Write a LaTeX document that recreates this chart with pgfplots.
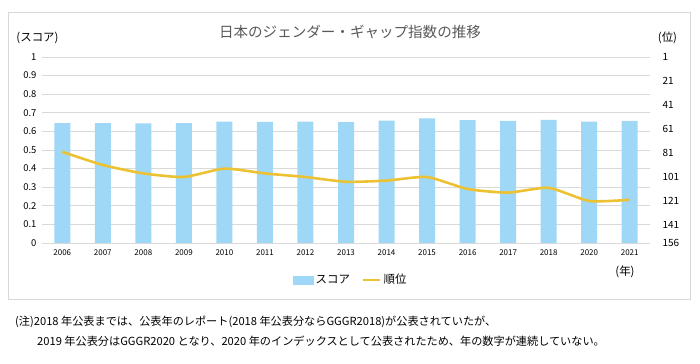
\documentclass[border=0pt]{standalone}
\usepackage{fontspec}
\setmainfont{Noto Sans CJK JP}
\usepackage{pgfplots}
\pgfplotsset{compat=1.18}
\definecolor{barblue}{RGB}{158,216,246}
\definecolor{linegold}{RGB}{236,193,50}
\definecolor{gridgray}{RGB}{217,217,217}
\definecolor{titlegray}{RGB}{89,89,89}
\begin{document}
\begin{tikzpicture}
\path[use as bounding box] (0bp,0bp) rectangle (700bp,364bp);
\draw[gridgray, line width=0.8bp] (8bp,65bp) rectangle (690bp,352bp);
\node[text=titlegray, font=\fontsize{14.6}{16}\selectfont] at (350bp,332bp) {日本のジェンダー・ギャップ指数の推移};
\node[font=\fontsize{11.5}{13}\selectfont] at (37.5bp,326bp) {(スコア)};
\node[font=\fontsize{11.5}{13}\selectfont] at (667.5bp,326bp) {(位)};
\node[font=\fontsize{11.5}{13}\selectfont] at (625bp,92bp) {(年)};
\node[anchor=west, font=\fontsize{11.2}{12}\selectfont, inner sep=0] at (15bp,42bp) {(注)2018 年公表までは、公表年のレポート(2018 年公表分ならGGGR2018)が公表されていたが、};
\node[anchor=west, font=\fontsize{11.2}{12}\selectfont, inner sep=0] at (37bp,23bp) {2019 年公表分はGGGR2020 となり、2020 年のインデックスとして公表されたため、年の数字が連続していない。};
\begin{axis}[
  at={(42bp,121bp)}, anchor=south west,
  scale only axis, width=608bp, height=186bp,
  xmin=-0.5, xmax=14.5, ymin=0, ymax=1,
  xtick={0,...,14},
  xticklabels={2006,2007,2008,2009,2010,2011,2012,2013,2014,2015,2016,2017,2018,2020,2021},
  ytick={0,0.1,0.2,0.3,0.4,0.5,0.6,0.7,0.8,0.9,1},
  yticklabels={0,0.1,0.2,0.3,0.4,0.5,0.6,0.7,0.8,0.9,1},
  axis line style={draw=none},
  tick style={draw=none},
  ymajorgrids, grid style={gridgray, line width=0.8bp},
  xticklabel style={font=\fontsize{8}{9}\selectfont, yshift=-3bp},
  yticklabel style={font=\fontsize{9.5}{11}\selectfont, xshift=-2bp},
  clip=false,
]
\addplot[ybar, bar width=16bp, fill=barblue, draw=none] coordinates {
(0,0.645) (1,0.645) (2,0.643) (3,0.645) (4,0.652) (5,0.651) (6,0.653) (7,0.650) (8,0.658) (9,0.670) (10,0.660) (11,0.657) (12,0.662) (13,0.652) (14,0.656)};
\end{axis}
\begin{axis}[
  at={(42bp,121bp)}, anchor=south west,
  scale only axis, width=608bp, height=186bp,
  xmin=-0.5, xmax=14.5, ymin=1, ymax=156, y dir=reverse,
  axis x line=none, axis y line*=right,
  axis line style={draw=none},
  tick style={draw=none},
  ytick={1,21,41,61,81,101,121,141,156},
  yticklabels={1,21,41,61,81,101,121,141,156},
  yticklabel style={font=\fontsize{10}{11}\selectfont, xshift=9bp},
  legend style={at={(0.508,-0.198)}, anchor=center, draw=none, fill=none,
    legend columns=2, font=\fontsize{11.5}{13}\selectfont,
    /tikz/every even column/.append style={column sep=10bp}},
  legend cell align=left,
  clip=false,
]
\addlegendimage{legend image code/.code={\fill[barblue] (0bp,-4bp) rectangle (20bp,4bp);}}
\addlegendentry{スコア}
\addplot[linegold, line width=2.6bp, smooth, tension=0.35, line join=round] coordinates {
(0,80) (1,91) (2,98) (3,101) (4,94) (5,98) (6,101) (7,105) (8,104) (9,101) (10,111) (11,114) (12,110) (13,121) (14,120)};
\addlegendentry{順位}
\end{axis}
\end{tikzpicture}
\end{document}
